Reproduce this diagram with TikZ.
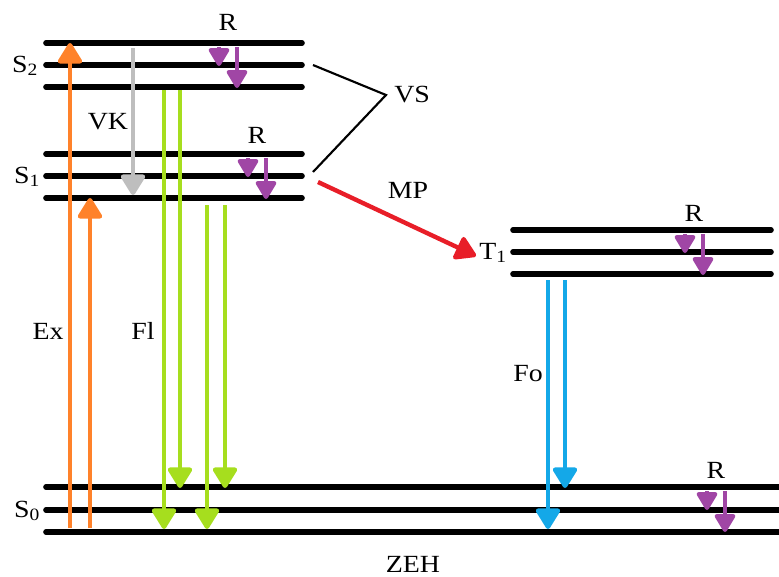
\documentclass[tikz,border=0pt]{standalone}
\usepackage{fontspec}
\setmainfont{Liberation Serif}[FakeStretch=1.13]
\usetikzlibrary{arrows.meta,positioning}

\definecolor{exorange}{RGB}{255,130,42}
\definecolor{flgreen}{RGB}{166,222,30}
\definecolor{foblue}{RGB}{20,168,232}
\definecolor{rpurple}{RGB}{160,70,165}
\definecolor{vkgray}{RGB}{190,190,190}
\definecolor{mpred}{RGB}{232,30,40}

\begin{document}
\begin{tikzpicture}[
    x=0.75pt, y=-0.75pt,
    level/.style={line width=4.2pt, line cap=round},              % Style for the energy levels
    trans/.style={line width=3.3pt, -{Triangle[width=20pt,length=17pt,round]}}, % Style for the transitions
    relax/.style={line width=3pt, rpurple, -{Triangle[width=17pt,length=15pt,round]}}, % Style for the relaxation arrows
    lbl/.style={font=\fontsize{18.5}{22}\selectfont, inner sep=0pt}  % Style for the labels
    ]
    \useasboundingbox (0,0) rectangle (779,576);

    % Vibrational levels of S2, S1, T1 and S0
    \foreach \y in {43,65,87,154,176,198}
        \draw[level] (46,\y) -- (302,\y);
    \foreach \y in {230,252,274}
        \draw[level] (513,\y) -- (771,\y);
    \foreach \y in {487,510,532}
        \draw[level] (46,\y) -- (790,\y);

    % State labels
    \node[lbl] (S2) at (25,66) {S\textsubscript{2}};
    \node[lbl] (S1) at (27,177) {S\textsubscript{1}};
    \node[lbl] (T1) at (493,253) {T\textsubscript{1}};
    \node[lbl] (S0) at (27,511) {S\textsubscript{0}};
    \node[lbl] (zeh) at (413,564) {ZEH};

    % Absorption
    \draw[trans, exorange] (70,528) -- (70,43);
    \draw[trans, exorange] (90,528) -- (90,198);
    \node[lbl] (ex) at (48,331) {Ex};

    % Internal conversion
    \draw[trans, vkgray] (133,48) -- (133,195);
    \node[lbl] (vk) at (108,122) {VK};

    % Fluorescence
    \draw[trans, flgreen] (164,90) -- (164,529);
    \draw[trans, flgreen] (180,90) -- (180,488);
    \draw[trans, flgreen] (207,205) -- (207,529);
    \draw[trans, flgreen] (225,205) -- (225,488);
    \node[lbl] (fl) at (143,331) {Fl};

    % Phosphorescence
    \draw[trans, foblue] (548,280) -- (548,529);
    \draw[trans, foblue] (565,280) -- (565,488);
    \node[lbl] (fo) at (528,374) {Fo};

    % Vibrational relaxation in each state
    \foreach \x/\y/\r in {219/43/22, 248/154/135, 685/230/213, 707/487/470} {
        \draw[relax] (\x,\y+4) -- (\x,\y+23);
        \draw[relax] (\x+18,\y+4) -- (\x+18,\y+45);
        \node[lbl] at (\x+9,\r) {R};
    }

    % Intersystem crossing
    \coordinate (vs) at (386,95);
    \draw[line width=1.6pt] (313,65) -- (vs) -- (313,172);
    \node[lbl, right=6pt of vs] (vslbl) {VS};
    \draw[trans, mpred] (318,182) -- (476,256);
    \node[lbl] (mp) at (408,190) {MP};

\end{tikzpicture}
\end{document}
